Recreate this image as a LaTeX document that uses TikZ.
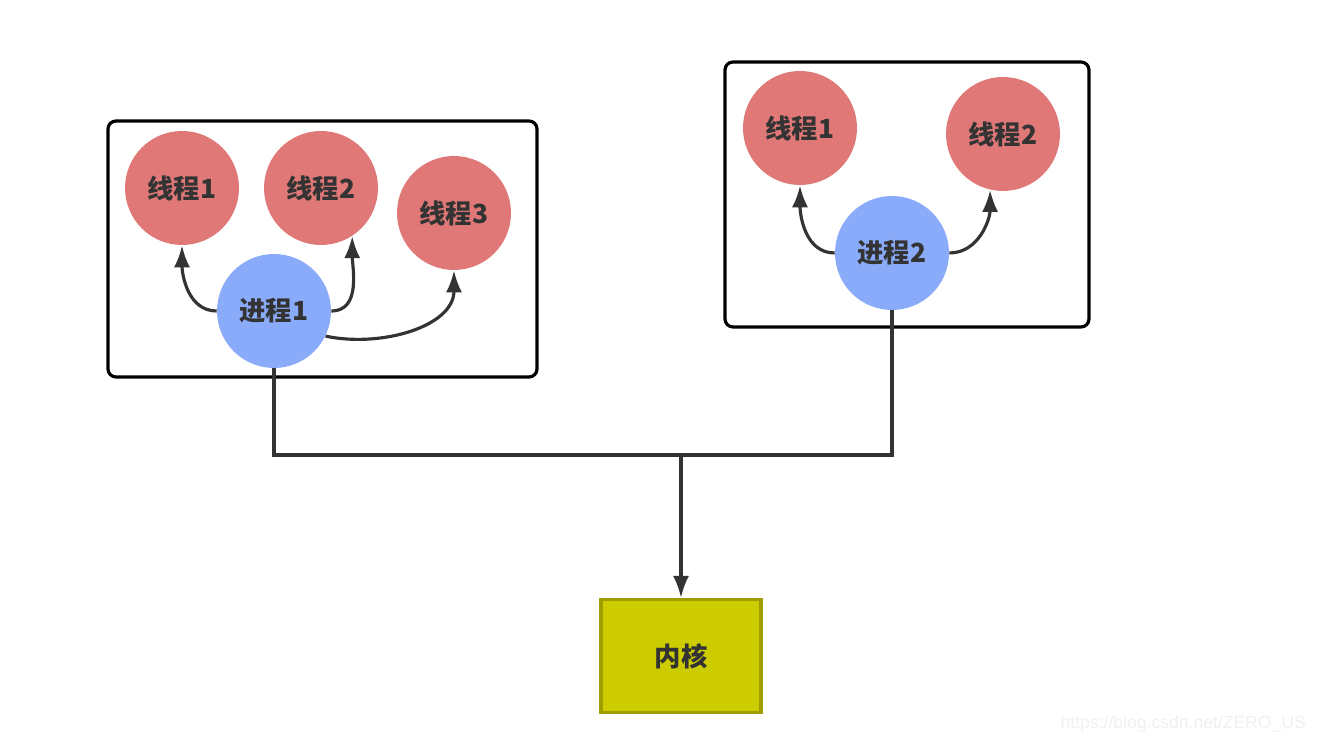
\documentclass[tikz,border=0pt]{standalone}
\usepackage{fontspec}
\usepackage{xcolor}
\usepackage{tikz}
\usetikzlibrary{arrows.meta, positioning}
\newfontfamily\cjk{Noto Sans CJK SC}
\newfontfamily\wmfont{Liberation Sans}
\definecolor{threadred}{HTML}{E07878}
\definecolor{procblue}{HTML}{8AABF9}
\definecolor{kernfill}{HTML}{CCCC00}
\definecolor{kernline}{HTML}{9E9E00}
\definecolor{ink}{HTML}{333333}

\begin{document}
\begin{tikzpicture}[x=0.02cm,y=0.02cm]
        \useasboundingbox (0,0) rectangle (1319,743);
        % the two process boxes
        \draw[line width=1.8pt,rounded corners=1.6mm] (108,366) rectangle (537,622);
        \draw[line width=1.8pt,rounded corners=1.6mm] (725,416) rectangle (1089,681);
        \begin{scope}[every node/.style={circle,minimum size=2.28cm,inner sep=0pt,text=ink,font=\cjk\bfseries\fontsize{15pt}{17pt}\selectfont}]
          \node[fill=threadred] (a1) at (182,555) {线程1};
          \node[fill=threadred] (a2) at (321,555) {线程2};
          \node[fill=threadred] (a3) at (454,530) {线程3};
          \node[fill=procblue] (p1) at (274,432) {进程1};
          \node[fill=threadred] (b1) at (800,615) {线程1};
          \node[fill=threadred] (b2) at (1003,609) {线程2};
          \node[fill=procblue] (p2) at (892,490) {进程2};
        \end{scope}
        \node[draw=kernline,line width=1.8pt,fill=kernfill,minimum width=3.2cm,minimum height=2.26cm,text=ink,font=\cjk\bfseries\fontsize{15pt}{17pt}\selectfont] (k) at (681,87) {内核};
        \coordinate (j) at (681,288);
        \begin{scope}[every edge/.style={draw=ink,line width=1.8pt,-{Latex[length=4.4mm,width=3.2mm]}}]
          \path (p1.west) edge[out=180,in=-90] (a1.south);
          \path (p1.east) edge[out=0,in=-90] (a2.-57);
          \path (p1.-26) edge[out=-12,in=-90] (a3.south);
          \path (p2.west) edge[out=180,in=-90] (b1.south);
          \path (p2.east) edge[out=0,in=-90] (b2.-103);
          \path (j) edge (k.north);
        \end{scope}
        \draw[ink,line width=1.8pt] (p1.south) |- (j) -| (p2.south);
        \node[anchor=east,font=\wmfont\fontsize{10pt}{12pt}\selectfont,text=black!6] (wm) at (1312,19) {https://blog.csdn.net/ZERO\_US};
      \end{tikzpicture}
\end{document}
